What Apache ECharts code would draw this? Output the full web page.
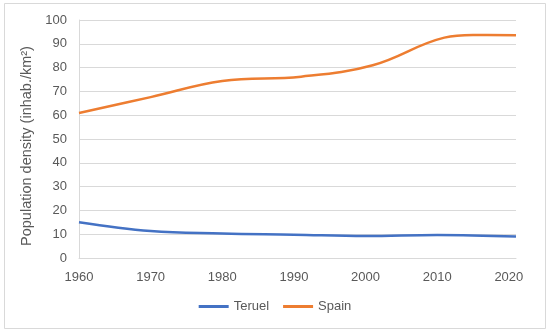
<!DOCTYPE html>
<html><head><meta charset="utf-8">
<script src="https://cdn.jsdelivr.net/npm/echarts@6/dist/echarts.min.js"></script>
<style>html,body{margin:0;padding:0;background:#fff}#c{width:550px;height:333px}</style>
</head><body><div id="c"></div>
<script>
var teruelYears = [1960, 1970, 1980, 1990, 2000, 2010, 2021];
var teruelValues = [15.0, 11.3, 10.3, 9.8, 9.2, 9.7, 9.0];
var spainYears = [1960, 1970, 1980, 1991, 2001, 2011, 2015, 2021];
var spainValues = [60.9, 67.6, 74.4, 76.2, 81.0, 92.6, 93.7, 93.6];
var yTicks = [0, 10, 20, 30, 40, 50, 60, 70, 80, 90, 100];
var seriesNames = ['Teruel', 'Spain'];

function pairs(xs, ys) { return xs.map(function (x, i) { return [x, ys[i]]; }); }

var font = '"Liberation Sans", sans-serif';
var chart = echarts.init(document.getElementById('c'), null, {renderer: 'canvas'});
chart.setOption({
  animation: false,
  backgroundColor: '#fff',
  graphic: [{type: 'rect', shape: {x: 4.5, y: 3.5, width: 541, height: 325}, style: {fill: 'none', stroke: '#d9d9d9', lineWidth: 1}, silent: true}],
  grid: {left: 79, top: 20, right: 34, bottom: 75},
  legend: {
    data: seriesNames, bottom: 15, left: 'center', icon: 'rect', itemWidth: 30, itemHeight: 3, itemGap: 14,
    textStyle: {color: '#595959', fontSize: 13, fontFamily: font}
  },
  xAxis: {
    type: 'value', min: 1960, max: 2021, interval: 10,
    axisLine: {show: true, lineStyle: {color: '#d9d9d9'}}, axisTick: {show: false}, splitLine: {show: false},
    axisLabel: {color: '#595959', fontSize: 13, fontFamily: font, margin: 13, showMaxLabel: false,
      formatter: function (v) { return String(v); }}
  },
  yAxis: {
    type: 'value', min: yTicks[0], max: yTicks[yTicks.length - 1], interval: 10,
    name: 'Population density (inhab./km²)', nameLocation: 'middle', nameGap: 39,
    nameTextStyle: {color: '#595959', fontSize: 14.5, fontFamily: font, padding: [0, 14, 0, 0]},
    axisLine: {show: true, lineStyle: {color: '#d9d9d9'}}, axisTick: {show: false},
    splitLine: {lineStyle: {color: '#d9d9d9'}},
    axisLabel: {color: '#595959', fontSize: 13, fontFamily: font, margin: 12}
  },
  series: [
    {name: seriesNames[0], type: 'line', smooth: 0.4, symbol: 'none', data: pairs(teruelYears, teruelValues),
     lineStyle: {color: '#4472C4', width: 2.5}, itemStyle: {color: '#4472C4'}},
    {name: seriesNames[1], type: 'line', smooth: 0.4, symbol: 'none', data: pairs(spainYears, spainValues),
     lineStyle: {color: '#ED7D31', width: 2.5}, itemStyle: {color: '#ED7D31'}}
  ]
});
</script></body></html>
